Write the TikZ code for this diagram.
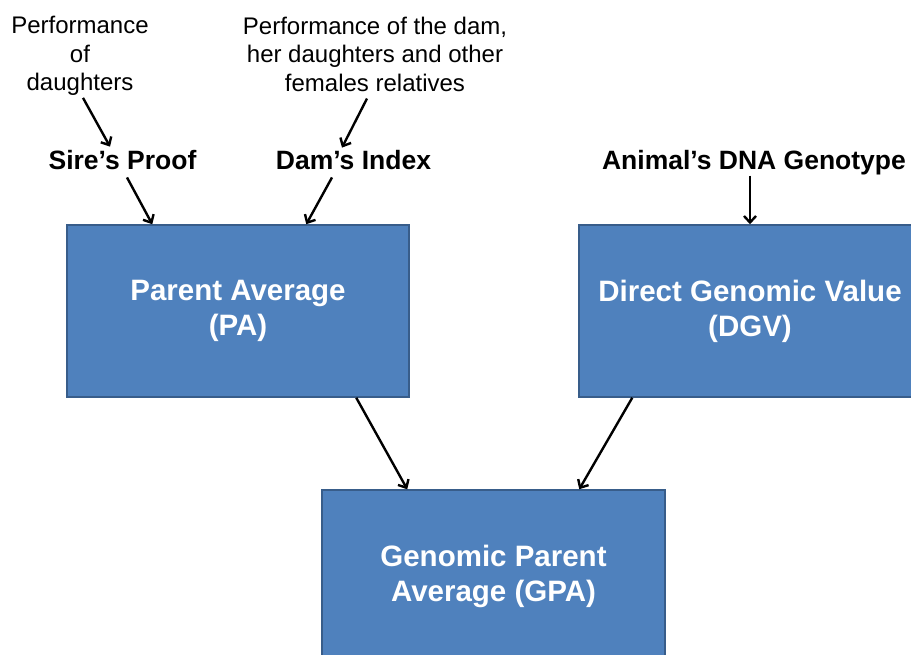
\documentclass[tikz,border=0pt]{standalone}
\usepackage{fontspec}
\setmainfont{Liberation Sans}
\usetikzlibrary{arrows.meta,calc}
\definecolor{boxblue}{HTML}{4F81BD}
\definecolor{boxedge}{HTML}{385D8A}
\tikzset{
  smalltext/.style={inner sep=0pt, align=center, font=\fontsize{24}{28.5}\selectfont},
  labeltext/.style={inner sep=0pt, anchor=base, font=\bfseries\fontsize{26.5}{30}\selectfont},
  bluebox/.style={draw=boxedge, fill=boxblue, line width=1.5pt, minimum width=342pt, minimum height=172pt,
    align=center, text=white, inner sep=0pt, font=\bfseries\fontsize{29.5}{35}\selectfont},
  arr/.style={line width=2.4pt, -{Straight Barb[length=6.5pt,width=12pt]}}
}
\begin{document}
\begin{tikzpicture}[x=1pt,y=-1pt]
\useasboundingbox (0,0) rectangle (911,655);
\clip (0,0) rectangle (911,655);
% top texts
\node[smalltext] (perfd) at (80,56) {Performance\\of\\daughters};
\node[smalltext] (perfdam) at (375,54) {Performance of the dam,\\her daughters and other\\females relatives};
% labels
\node[labeltext] (sire) at (122.5,170) {Sire’s Proof};
\node[labeltext] (dam) at (353.5,170) {Dam’s Index};
\node[labeltext] (animal) at (754,170) {Animal’s DNA Genotype};
% boxes
\node[bluebox] (pa) at (238,311) {Parent Average\\(PA)};
\node[bluebox] (dgv) at (750,311) {Direct Genomic Value\\(DGV)};
\node[bluebox, minimum width=343pt] (gpa) at (493.5,576) {Genomic Parent\\Average (GPA)};
% arrows
\draw[arr] ($(perfd.south)+(3,2)$) -- ($(sire.north)+(-12.5,-4)$);
\draw[arr] ($(perfdam.south)+(-8,7)$) -- ($(dam.north)+(-11.5,-3)$);
\draw[arr] ($(sire.south)+(4.5,7)$) -- ($(pa.north west)+(86,0)$);
\draw[arr] ($(dam.south)+(-21.5,7)$) -- ($(pa.north west)+(240,0)$);
\draw[arr] (dgv.north |- animal.south) -- (dgv.north);
\draw[arr] ($(pa.south west)+(290,0)$) -- ($(gpa.north west)+(86,0)$);
\draw[arr] ($(dgv.south west)+(54,0)$) -- ($(gpa.north west)+(258,0)$);
\end{tikzpicture}
\end{document}
